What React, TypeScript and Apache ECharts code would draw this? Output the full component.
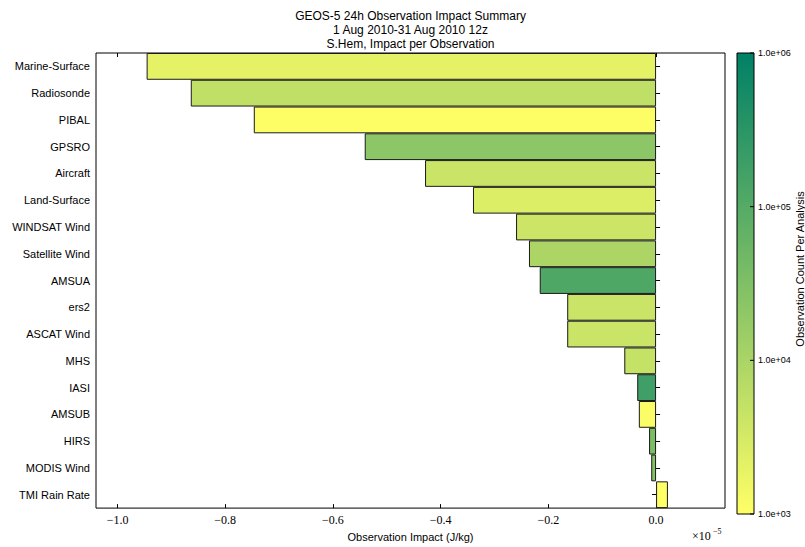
import React, { useEffect, useRef } from "react";
import * as echarts from "echarts";

const categories = [
  "Marine-Surface", "Radiosonde", "PIBAL", "GPSRO", "Aircraft", "Land-Surface",
  "WINDSAT Wind", "Satellite Wind", "AMSUA", "ers2", "ASCAT Wind", "MHS",
  "IASI", "AMSUB", "HIRS", "MODIS Wind", "TMI Rain Rate",
];
// impact per observation, in units of 1e-5 J/kg
const impacts = [
  -0.946, -0.864, -0.747, -0.541, -0.429, -0.340, -0.260, -0.236, -0.216,
  -0.165, -0.165, -0.059, -0.035, -0.032, -0.013, -0.009, 0.022,
];
// observation count per analysis
const counts = [
  2000, 5600, 1050, 22000, 4300, 2600, 4000, 9500, 117000,
  4300, 4300, 4900, 178000, 1100, 36000, 27000, 1000,
];
const xTicks = [-1.0, -0.8, -0.6, -0.4, -0.2, 0.0];
const cbTickLabels = ["1.0e+03", "1.0e+04", "1.0e+05", "1.0e+06"];
const cbMinLog = 3;
const cbMaxLog = 6;

function summerR(count: number): string {
  const n = Math.min(1, Math.max(0, (Math.log10(count) - cbMinLog) / (cbMaxLog - cbMinLog)));
  const s = 1 - n;
  const r = Math.round(255 * s);
  const g = Math.round(255 * (0.5 + 0.5 * s));
  const b = Math.round(255 * 0.4);
  return `rgb(${r},${g},${b})`;
}

const fmt = (v: number) => (v < 0 ? "\u2212" : "") + Math.abs(v).toFixed(1);

export default function App() {
  const ref = useRef<HTMLDivElement>(null);
  useEffect(() => {
    if (!ref.current) return;
    const chart = echarts.init(ref.current, undefined, { renderer: "svg" });
    const gl = 96, gt = 53, gr = 725, gb = 514;
    const cbX = 737, cbW = 17, cbTop = gt, cbBot = gb;
    const cbH = cbBot - cbTop;
    const cbGraphics: any[] = [
      {
        type: "rect",
        shape: { x: cbX, y: cbTop, width: cbW, height: cbH },
        style: {
          fill: new echarts.graphic.LinearGradient(0, 0, 0, 1, [
            { offset: 0, color: summerR(10 ** cbMaxLog) },
            { offset: 1, color: summerR(10 ** cbMinLog) },
          ]),
          stroke: "#000",
          lineWidth: 1,
        },
      },
    ];
    cbTickLabels.forEach((lab, i) => {
      const y = cbBot - (i / (cbTickLabels.length - 1)) * cbH;
      cbGraphics.push({
        type: "line",
        shape: { x1: cbX + cbW - 4, y1: y, x2: cbX + cbW, y2: y },
        style: { stroke: "#000", lineWidth: 1 },
      });
      cbGraphics.push({
        type: "text",
        x: cbX + cbW + 4,
        y: y,
        style: {
          text: lab,
          fontSize: 9,
          fontFamily: "Liberation Sans, Arial, sans-serif",
          fill: "#000",
          textVerticalAlign: "middle",
        },
      });
    });

    chart.setOption({
      animation: false,
      grid: {
        left: gl,
        top: gt,
        right: 805 - gr,
        bottom: 547 - gb,
        show: true,
        borderColor: "#000",
        borderWidth: 1,
        backgroundColor: "transparent",
      },
      xAxis: [
        {
          type: "value",
          min: -1.04,
          max: 0.128,
          position: "bottom",
          axisLine: { show: false },
          splitLine: { show: false },
          axisTick: {
            show: true,
            inside: true,
            length: 4,
            customValues: xTicks,
            lineStyle: { color: "#000" },
          },
          axisLabel: {
            customValues: xTicks,
            formatter: fmt,
            fontFamily: "Liberation Serif, DejaVu Serif, serif",
            fontSize: 12,
            color: "#000",
            margin: 6,
          },
          name: "Observation Impact (J/kg)",
          nameLocation: "middle",
          nameGap: 21,
          nameTextStyle: {
            fontFamily: "Liberation Sans, Arial, sans-serif",
            fontSize: 11,
            color: "#000",
          },
        },
        {
          type: "value",
          min: -1.04,
          max: 0.128,
          position: "top",
          axisLine: { show: false },
          splitLine: { show: false },
          axisTick: {
            show: true,
            inside: true,
            length: 4,
            customValues: xTicks,
            lineStyle: { color: "#000" },
          },
          axisLabel: { show: false },
        },
      ],
      yAxis: [
        {
          type: "category",
          data: categories,
          inverse: true,
          axisLine: { show: false },
          axisTick: {
            show: true,
            inside: true,
            length: 4,
            alignWithLabel: true,
            lineStyle: { color: "#000" },
          },
          axisLabel: {
            fontFamily: "Liberation Sans, Arial, sans-serif",
            fontSize: 11,
            color: "#000",
            margin: 6,
          },
        },
        {
          type: "category",
          data: categories,
          inverse: true,
          position: "right",
          axisLine: { show: false },
          axisTick: {
            show: true,
            inside: true,
            length: 4,
            alignWithLabel: true,
            lineStyle: { color: "#000" },
          },
          axisLabel: { show: false },
        },
      ],
      series: [
        {
          type: "bar",
          xAxisIndex: 0,
          yAxisIndex: 0,
          barCategoryGap: "0%",
          data: impacts.map((v, i) => ({
            value: v,
            itemStyle: { color: summerR(counts[i]) },
          })),
          itemStyle: { borderColor: "#1a1a1a", borderWidth: 1 },
        },
      ],
      graphic: [
        {
          type: "text",
          x: (gl + gr) / 2,
          y: 9,
          style: {
            text: "GEOS-5 24h Observation Impact Summary\n1 Aug 2010-31 Aug 2010 12z\nS.Hem, Impact per Observation",
            fontSize: 12,
            lineHeight: 14,
            fontFamily: "Liberation Sans, Arial, sans-serif",
            fill: "#000",
            textAlign: "center",
          },
        },
        {
          type: "text",
          x: 692,
          y: 530,
          style: {
            text: "\u00d710",
            fontSize: 12,
            fontFamily: "Liberation Serif, DejaVu Serif, serif",
            fill: "#000",
          },
        },
        {
          type: "text",
          x: 713,
          y: 527,
          style: {
            text: "\u22125",
            fontSize: 8,
            fontFamily: "Liberation Serif, DejaVu Serif, serif",
            fill: "#000",
          },
        },
        ...cbGraphics,
        {
          type: "text",
          x: 800,
          y: 269,
          rotation: Math.PI / 2,
          style: {
            text: "Observation Count Per Analysis",
            fontSize: 11,
            fontFamily: "Liberation Sans, Arial, sans-serif",
            fill: "#000",
            textAlign: "center",
            textVerticalAlign: "middle",
          },
        },
      ],
    });
    return () => chart.dispose();
  }, []);
  return (
    <div
      ref={ref}
      style={{ position: "absolute", left: 0, top: 0, width: 805, height: 547 }}
    />
  );
}
